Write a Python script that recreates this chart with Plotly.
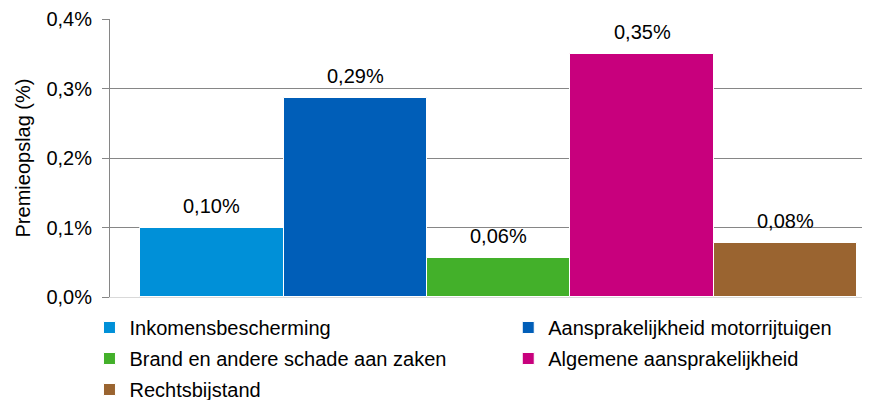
import plotly.graph_objects as go

# premieopslag per branche, in procenten
categorieen = ['Inkomensbescherming', 'Aansprakelijkheid motorrijtuigen',
               'Brand en andere schade aan zaken', 'Algemene aansprakelijkheid',
               'Rechtsbijstand']
waarden = [0.099, 0.286, 0.056, 0.350, 0.078]
kleuren = ['#0090D8', '#005EB8', '#43B02A', '#C8007D', '#9A6430']
legenda = ['legend', 'legend2', 'legend', 'legend2', 'legend']  # twee kolommen
y_ticks = [0.0, 0.1, 0.2, 0.3, 0.4]
y_labels = ['0,0%', '0,1%', '0,2%', '0,3%', '0,4%']

font = 'Arial, Liberation Sans, sans-serif'

fig = go.Figure()
for i in range(len(categorieen)):
    fig.add_trace(go.Bar(x=[categorieen[i]], y=[waarden[i]], name=categorieen[i],
                         legend=legenda[i], legendgroup=categorieen[i],
                         marker=dict(color=kleuren[i], line=dict(color='white', width=1))))
    fig.add_annotation(x=categorieen[i], y=waarden[i], yshift=22, yanchor='middle',
                       text=f'{waarden[i]:.2f}'.replace('.', ',') + '%', showarrow=False,
                       font=dict(size=20, color='#000000', family=font))

leg = dict(orientation='v', yref='container', y=0.2347, xanchor='left', yanchor='top',
           font=dict(size=20, family=font), tracegroupgap=2,
           traceorder='grouped', itemclick=False, bgcolor='rgba(0,0,0,0)')

# pagina heeft 8px body-marge, dus figuur iets kleiner
fig.update_layout(
    width=862, height=392,
    margin=dict(l=102, r=0, t=10, b=102),
    paper_bgcolor='white', plot_bgcolor='white',
    font=dict(family=font, size=20, color='#000000'),
    bargap=0, barmode='group',
    showlegend=True,
    legend=dict(leg, x=-0.027),
    legend2=dict(leg, x=0.524),
)
fig.update_xaxes(range=[-0.71, 4.59], showticklabels=False, showgrid=False,
                 showline=True, linecolor='#d9d9d9', linewidth=1, ticks='')
fig.update_yaxes(range=[0, 0.4], tickvals=y_ticks, ticktext=y_labels,
                 showgrid=True, gridcolor='#868686', gridwidth=1,
                 showline=True, linecolor='#868686', linewidth=1,
                 ticks='outside', ticklen=7, tickcolor='#868686',
                 ticklabelstandoff=6, ticklabeloverflow='allow', zeroline=False,
                 title=dict(text='Premieopslag (%)', standoff=10, font=dict(size=20)))

fig.write_html('out.html')
